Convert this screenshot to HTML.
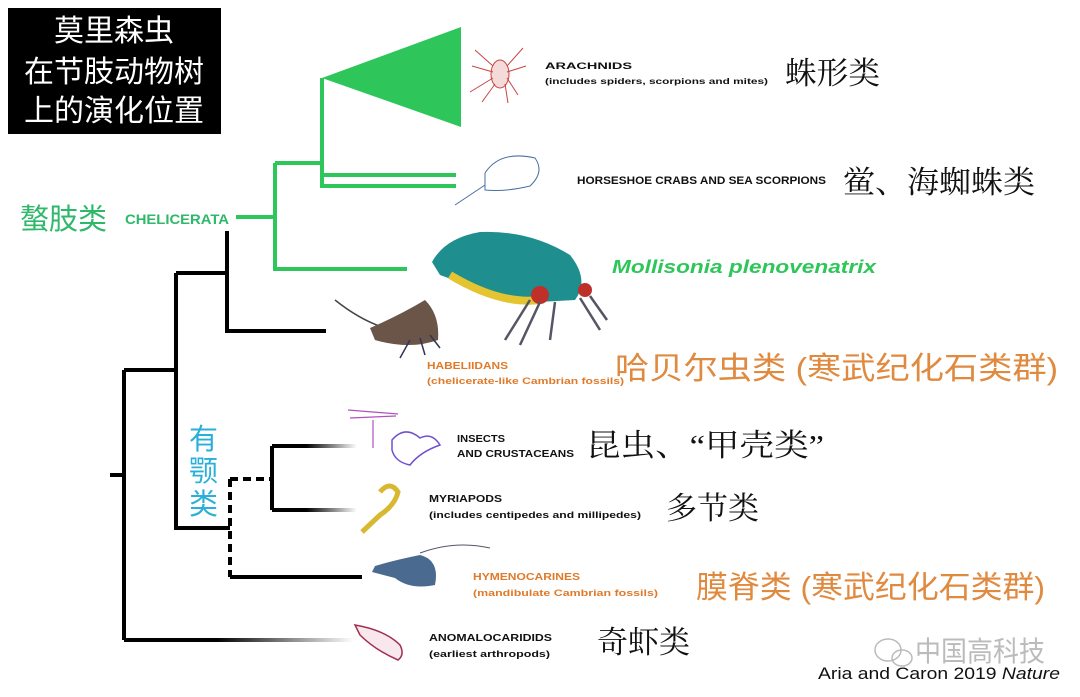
<!DOCTYPE html>
<html><head><meta charset="utf-8"><style>
html,body{margin:0;padding:0;background:#fff;}
svg{display:block;}
.s{font-family:"Liberation Sans","Noto Sans CJK SC",sans-serif;}
.b{font-family:"Liberation Sans",sans-serif;font-weight:bold;}
.z{font-family:"Liberation Serif","Noto Serif CJK SC",serif;}
</style></head><body>
<svg width="1080" height="697" viewBox="0 0 1080 697" xmlns="http://www.w3.org/2000/svg">
<defs>
<linearGradient id="fade" x1="0" x2="1" y1="0" y2="0"><stop offset="0" stop-color="#000"/><stop offset="0.4" stop-color="#000"/><stop offset="1" stop-color="#000" stop-opacity="0"/></linearGradient>
</defs>
<rect x="8" y="8" width="213" height="126" fill="#000"/>
<g class="s" fill="#fff" font-size="30" text-anchor="middle">
<text x="114" y="41">莫里森虫</text>
<text x="114" y="82">在节肢动物树</text>
<text x="114" y="121">上的演化位置</text>
</g>
<g stroke="#2ec65a" stroke-width="4" fill="none">
<path d="M322 78 V188 M322 175 H456 M322 186 H456 M275 163 H323 M275 163 V269 H407 M236 217 H275"/>
</g>
<polygon points="322,78 461,27 461,127" fill="#2ec65a"/>
<g stroke="#000" stroke-width="4" fill="none">
<path d="M227 231 V331 H326 M176 273 H227 M176 273 V528 H230 M124 370 H176 M124 370 V640 M110 475 H124 M230 577 H362 M272 446 V510"/>
<path d="M230 479 V577 M230 479 H272" stroke-dasharray="8,5"/>
</g>
<rect x="124" y="638" width="230" height="4" fill="url(#fade)"/>
<rect x="272" y="444" width="85" height="4" fill="url(#fade)"/>
<rect x="272" y="508" width="85" height="4" fill="url(#fade)"/>
<g stroke="#c44" stroke-width="1" fill="none">
<ellipse cx="500" cy="74" rx="9" ry="14" fill="#f5dada"/>
<path d="M493 66 L475 50 M493 72 L472 66 M493 78 L470 92 M495 84 L482 102 M507 66 L523 48 M507 72 L526 66 M507 78 L518 95 M505 84 L508 103"/>
</g>
<g stroke="#4a6fa0" stroke-width="1" fill="#fff">
<path d="M485 173 Q500 150 535 158 Q545 172 530 186 Q505 192 485 190 Z"/>
<path d="M485 185 L455 205"/>
</g>
<g>
<path d="M432 262 Q445 238 480 232 Q530 230 570 255 Q590 280 575 300 L520 303 Q480 290 440 275 Z" fill="#1f8e8e"/>
<path d="M450 275 Q500 305 540 300" stroke="#e4c430" stroke-width="8" fill="none"/>
<circle cx="540" cy="295" r="9" fill="#c0302a"/><circle cx="585" cy="290" r="7" fill="#c0302a"/>
<g stroke="#556" stroke-width="2.5" fill="none"><path d="M530 300 L505 340 M540 302 L520 345 M555 302 L550 340 M580 298 L600 330 M590 296 L607 320"/></g>
</g>
<g>
<path d="M335 300 Q360 320 385 328" stroke="#444" stroke-width="1.5" fill="none"/>
<path d="M370 328 Q400 315 425 300 Q440 315 438 340 Q410 350 375 340 Z" fill="#6b5448"/>
<g stroke="#335" stroke-width="1.5"><path d="M410 340 L400 358 M420 338 L425 355 M430 335 L440 348"/></g>
</g>
<g stroke="#b050c0" stroke-width="1.2" fill="none"><path d="M373 420 V448 M348 410 L398 414 M350 418 L396 416"/></g>
<path d="M392 440 Q405 425 420 438 Q432 432 440 445 Q420 452 410 465 Q395 462 392 450 Z" fill="none" stroke="#7050d0" stroke-width="1.5"/>
<path d="M380 492 Q390 480 398 492 Q395 505 380 515 L362 532" fill="none" stroke="#d8b830" stroke-width="5"/>
<path d="M375 566 Q395 560 420 555 Q440 560 435 585 Q410 590 395 578 L372 572 Z" fill="#4a6a90"/>
<path d="M420 553 Q455 540 490 548" stroke="#556" stroke-width="1" fill="none"/>
<path d="M355 625 Q385 630 400 645 Q405 655 398 660 Q375 650 360 635 Z" fill="#f8e8ee" stroke="#a03050" stroke-width="1.5"/>
<g class="b" fill="#111" lengthAdjust="spacingAndGlyphs">
<text x="545" y="69" font-size="9.5" textLength="87" lengthAdjust="spacingAndGlyphs">ARACHNIDS</text>
<text x="545" y="84" font-size="8.5" textLength="223" lengthAdjust="spacingAndGlyphs">(includes spiders, scorpions and mites)</text>
<text x="577" y="184" font-size="11" textLength="249" lengthAdjust="spacingAndGlyphs">HORSESHOE CRABS AND SEA SCORPIONS</text>
<text x="457" y="442" font-size="10.5" textLength="48" lengthAdjust="spacingAndGlyphs">INSECTS</text>
<text x="457" y="457" font-size="10.5" textLength="117" lengthAdjust="spacingAndGlyphs">AND CRUSTACEANS</text>
<text x="429" y="502" font-size="10.5" textLength="73" lengthAdjust="spacingAndGlyphs">MYRIAPODS</text>
<text x="429" y="518" font-size="9" textLength="212" lengthAdjust="spacingAndGlyphs">(includes centipedes and millipedes)</text>
<text x="429" y="641" font-size="10.5" textLength="123" lengthAdjust="spacingAndGlyphs">ANOMALOCARIDIDS</text>
<text x="429" y="657" font-size="9" textLength="121" lengthAdjust="spacingAndGlyphs">(earliest arthropods)</text>
</g>
<g class="b" fill="#e07a2a">
<text x="427" y="369" font-size="10" textLength="81" lengthAdjust="spacingAndGlyphs">HABELIIDANS</text>
<text x="427" y="384" font-size="9" textLength="197" lengthAdjust="spacingAndGlyphs">(chelicerate-like Cambrian fossils)</text>
<text x="473" y="580" font-size="10.5" textLength="107" lengthAdjust="spacingAndGlyphs">HYMENOCARINES</text>
<text x="473" y="596" font-size="9" textLength="185" lengthAdjust="spacingAndGlyphs">(mandibulate Cambrian fossils)</text>
</g>
<text x="612" y="273" class="b" font-style="italic" font-size="18" fill="#2ec65a" textLength="264" lengthAdjust="spacingAndGlyphs">Mollisonia plenovenatrix</text>
<text x="125" y="224" class="b" font-size="14" fill="#2fb86a" textLength="104" lengthAdjust="spacingAndGlyphs">CHELICERATA</text>
<text x="20" y="229" class="s" font-size="29" fill="#2fb86a">螯肢类</text>
<g class="s" font-size="29" fill="#2ab0d8"><text x="189" y="449">有</text><text x="189" y="481">颚</text><text x="189" y="514">类</text></g>
<g class="z" fill="#111" font-size="31">
<text x="785" y="84" textLength="95" lengthAdjust="spacingAndGlyphs">蛛形类</text>
<text x="843" y="193" textLength="192" lengthAdjust="spacingAndGlyphs">鲎、海蜘蛛类</text>
<text x="586" y="456" textLength="238" lengthAdjust="spacingAndGlyphs">昆虫、“甲壳类”</text>
<text x="666" y="519" textLength="93" lengthAdjust="spacingAndGlyphs">多节类</text>
<text x="597" y="653" textLength="93" lengthAdjust="spacingAndGlyphs">奇虾类</text>
</g>
<g class="s" fill="#e08a40" font-size="31">
<text x="615" y="379" textLength="443" lengthAdjust="spacingAndGlyphs">哈贝尔虫类 (寒武纪化石类群)</text>
<text x="696" y="598" textLength="349" lengthAdjust="spacingAndGlyphs">膜脊类 (寒武纪化石类群)</text>
</g>
<text x="915" y="661" class="s" font-size="28" fill="#bbb" textLength="130" lengthAdjust="spacingAndGlyphs">中国高科技</text>
<g fill="none" stroke="#bbb" stroke-width="1.5"><ellipse cx="888" cy="650" rx="13" ry="11"/><ellipse cx="902" cy="658" rx="10" ry="8"/></g>
<text x="818" y="679" class="s" font-size="17" fill="#111" textLength="242" lengthAdjust="spacingAndGlyphs">Aria and Caron 2019 <tspan font-style="italic">Nature</tspan></text>
</svg>
</body></html>
